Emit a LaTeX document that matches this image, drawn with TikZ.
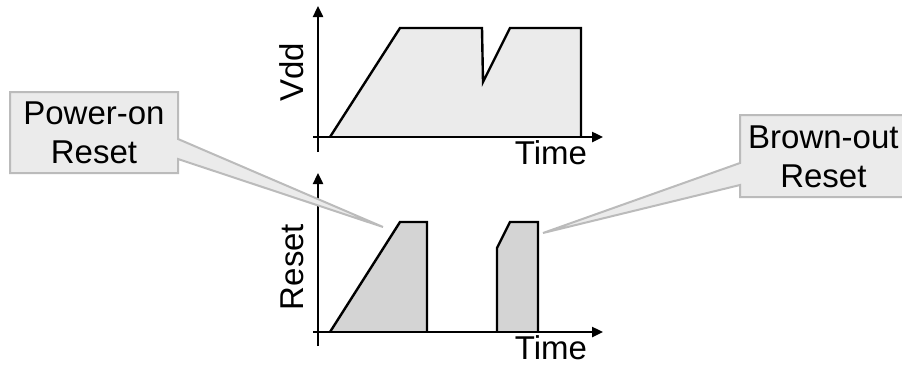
\documentclass[tikz,border=0pt]{standalone}
\usepackage{fontspec}
\setmainfont{Liberation Sans}
\usetikzlibrary{arrows.meta}
\definecolor{vddfill}{HTML}{EBEBEB}
\definecolor{rstfill}{HTML}{D4D4D4}
\definecolor{callfill}{HTML}{EBEBEB}
\definecolor{callline}{HTML}{BBBBBB}
\tikzset{
  axis/.style={line width=2.4pt,-{Triangle[length=11pt,width=10pt]}},
  wave/.style={line width=2.4pt,line join=miter},
  lbl/.style={inner sep=0pt,font=\fontsize{33}{39}\selectfont},
  callout/.style={fill=callfill,draw=callline,line width=2pt,line join=miter},
  calltext/.style={inner sep=0pt,align=center,font=\fontsize{33}{39}\selectfont}
}
\begin{document}
\begin{tikzpicture}[x=1pt,y=-1pt]
\useasboundingbox (0,0) rectangle (902,365);
\clip (0,0) rectangle (902,365);

% Vdd trace
\filldraw[wave,fill=vddfill] (330,137) -- (400,28) -- (482,28) -- (483,82) -- (510,28) -- (581,28) -- (581,137);
\draw[axis] (313,137) -- (603,137);
\draw[axis] (318,152) -- (318,6);
\node[lbl,rotate=90] (vdd) at (292,72) {Vdd};
\node[lbl] (t1) at (551,153) {Time};

% Reset trace
\filldraw[wave,fill=rstfill] (330,332) -- (400,222) -- (427,222) -- (427,332);
\filldraw[wave,fill=rstfill] (497,332) -- (497,248) -- (510,222) -- (538,222) -- (538,332);
\draw[axis] (313,332) -- (603,332);
\draw[axis] (318,346) -- (318,173);
\node[lbl,rotate=90] (rst) at (292,267) {Reset};
\node[lbl] (t2) at (551,348) {Time};

% Power-on callout
\draw[callout] (10,92) -- (178,92) -- (178,139) -- (383,227) -- (178,159) -- (178,173) -- (10,173) -- cycle;
\node[calltext] (por) at (94,133) {Power-on\\Reset};

% Brown-out callout
\draw[callout] (740,115) -- (912,115) -- (912,197) -- (740,197) -- (740,185) -- (543,233) -- (740,163) -- cycle;
\node[calltext,anchor=west] (bor) at (748,157) {Brown-out\\Reset};
\end{tikzpicture}
\end{document}
